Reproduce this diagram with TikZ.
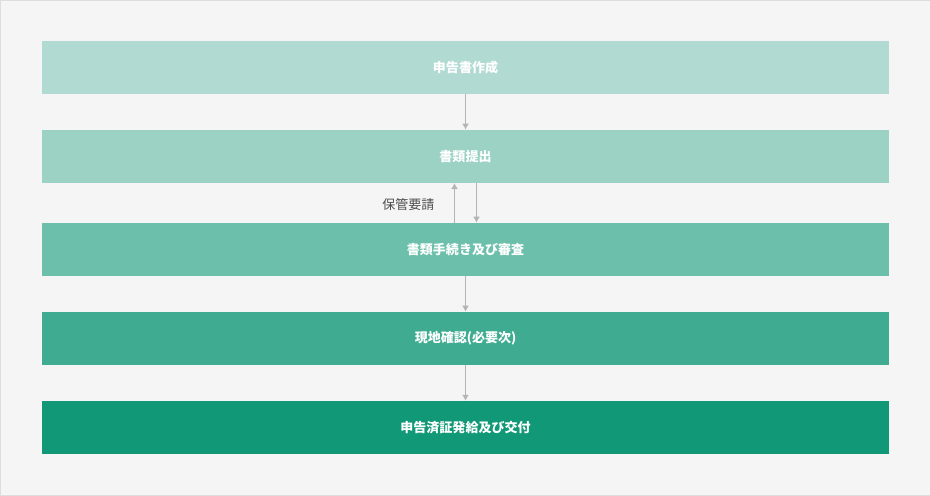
\documentclass[tikz,border=0pt]{standalone}
\usepackage{fontspec}
\newfontfamily\cjk{Noto Sans CJK JP}
\usetikzlibrary{positioning, arrows.meta}
\definecolor{bgcol}{HTML}{F5F5F5}
\definecolor{rimcol}{HTML}{DDDDDD}
\definecolor{arrcol}{HTML}{B4B4B4}
\definecolor{stepa}{HTML}{B1DBD2}
\definecolor{stepb}{HTML}{9BD2C4}
\definecolor{stepc}{HTML}{6CC0AB}
\definecolor{stepd}{HTML}{3FAC91}
\definecolor{stepe}{HTML}{119977}
\begin{document}
\begin{tikzpicture}[x=1pt, y=-1pt]
	\tikzset{etape/.style={minimum width=847pt, minimum height=53pt, inner sep=0pt, text=white, font=\cjk\bfseries\fontsize{13pt}{15pt}\selectfont},
		fleche/.style={draw=arrcol, line width=1.3pt, -{Latex[length=6pt,width=7pt]}}};
	\filldraw[fill=bgcol, draw=rimcol] (0.5,0.5) rectangle (929.5,495.5);
	\node[etape, fill=stepa] (a) at (465.5,67.5) {申告書作成};
	\node[etape, fill=stepb] (b) at (465.5,156.5) {書類提出};
	\node[etape, fill=stepc] (c) at (465.5,249.5) {書類手続き及び審査};
	\node[etape, fill=stepd] (d) at (465.5,338.5) {現地確認(必要次)};
	\node[etape, fill=stepe] (e) at (465.5,427.5) {申告済証発給及び交付};

	\draw[fleche] (a.south) -- (b.north);
	\draw[fleche] ([xshift=-11pt]c.north) -- ([xshift=-11pt]b.south);
	\draw[fleche] ([xshift=11pt]b.south) -- ([xshift=11pt]c.north);
	\node[font=\cjk\fontsize{13pt}{15pt}\selectfont, text=black!70, anchor=east] (r) at (438,205) {保管要請};
	\draw[fleche] (c.south) -- (d.north);
	\draw[fleche] (d.south) -- (e.north);
\end{tikzpicture}
\end{document}
